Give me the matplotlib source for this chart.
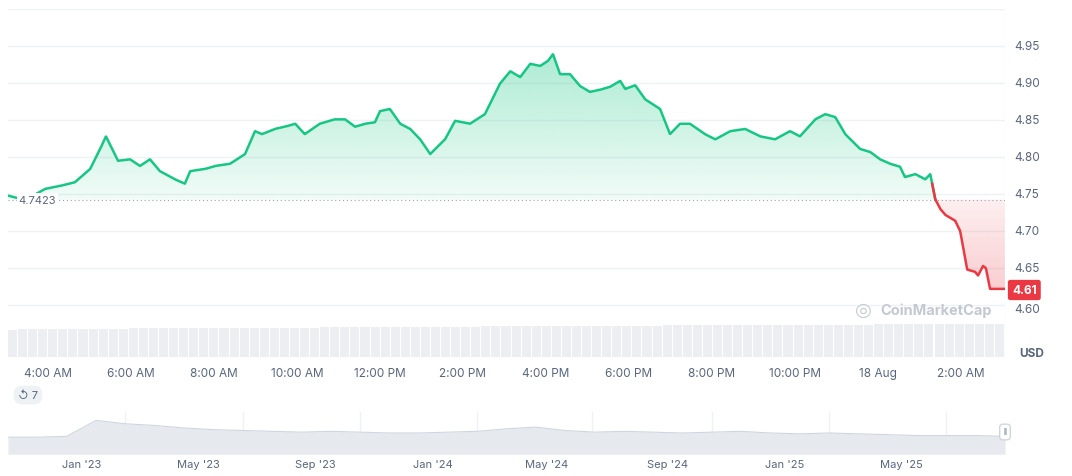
import numpy as np
import matplotlib
matplotlib.use("Agg")
import matplotlib.pyplot as plt
from matplotlib.colors import LinearSegmentedColormap
from matplotlib.path import Path

hours = [3.04,3.45,3.93,4.29,4.65,5.02,5.26,5.40,5.69,5.98,6.22,6.46,6.70,7.06,7.30,7.43,7.79,8.03,8.39,8.75,8.99,9.16,9.47,9.71,9.96,10.19,10.55,10.91,11.16,11.40,11.64,11.88,12.00,12.24,12.49,12.73,12.97,13.21,13.57,13.81,14.17,14.53,14.77,14.89,15.14,15.38,15.62,15.86,16.05,16.17,16.34,16.58,16.82,17.06,17.31,17.55,17.79,17.91,18.15,18.39,18.75,18.99,19.23,19.47,19.83,20.08,20.44,20.80,21.16,21.52,21.88,22.12,22.49,22.73,22.97,23.21,23.57,23.81,24.05,24.29,24.53,24.65,24.90,25.14,25.26,25.38,25.50,25.62,25.86,25.98,26.15,26.34,26.41,26.53,26.60,26.70,27.06]
prices = [4.748,4.742,4.757,4.761,4.766,4.784,4.811,4.828,4.795,4.797,4.788,4.797,4.781,4.770,4.764,4.781,4.784,4.788,4.791,4.804,4.835,4.831,4.838,4.841,4.845,4.831,4.845,4.851,4.851,4.841,4.845,4.847,4.862,4.865,4.845,4.838,4.824,4.804,4.824,4.849,4.845,4.858,4.885,4.899,4.916,4.908,4.926,4.923,4.930,4.939,4.912,4.912,4.896,4.888,4.891,4.895,4.903,4.892,4.897,4.878,4.865,4.831,4.845,4.845,4.831,4.824,4.835,4.838,4.828,4.824,4.835,4.828,4.851,4.858,4.854,4.831,4.811,4.807,4.797,4.791,4.787,4.773,4.777,4.770,4.777,4.743,4.730,4.722,4.714,4.700,4.648,4.645,4.640,4.653,4.650,4.622,4.622]
baseline = 4.7423
last_price = "4.61"

hour_ticks = [4,6,8,10,12,14,16,18,20,22,24,26]
hour_labels = ["4:00 AM","6:00 AM","8:00 AM","10:00 AM","12:00 PM","2:00 PM","4:00 PM","6:00 PM","8:00 PM","10:00 PM","18 Aug","2:00 AM"]
price_ticks = [4.60,4.65,4.70,4.75,4.80,4.85,4.90,4.95]

volume = [30,31,31,31,31,31,31,31,31,31,31,31,32,32,32,32,32,32,32,32,32,32,32,32,32,32,32,32,32,32,32,33,33,33,33,33,33,33,33,33,33,33,33,33,33,33,33,34,34,34,34,34,34,34,34,34,34,34,34,34,34,34,34,34,34,35,35,35,35,35,35,35,35,35,35,35,35,35,35,35,35,35,35,35,35,35,36,36,36,36,36,36,36,36,36,36,36,36,36,36]

nav_x = list(range(35))
nav_y = [20,20,21,40,36,34,31,29,28,27,26,27,26,25,25,26,27,30,32,28,26,27,26,25,26,27,25,24,25,24,23,22,22,22,21]
nav_months = [2.5,6.5,10.5,14.5,18.4,22.5,26.5,30.5]
nav_labels = ["Jan '23","May '23","Sep '23","Jan '24","May '24","Sep '24","Jan '25","May '25"]

W, H = 1072, 477
fig = plt.figure(figsize=(W/100, H/100), dpi=100)
plt.rcParams['font.family'] = ['Inter', 'DejaVu Sans']
green = "#16c784"; red = "#ea3943"; grid = "#eff2f5"; txt = "#58667e"

def fx(px): return px/W
def fy(py): return 1-py/H

ax = fig.add_axes([fx(8), fy(358), fx(1005-8), fy(10)-fy(358)])
ax.set_xlim(3.04, 27.06); ax.set_ylim(4.53, 5.0)
for s in ax.spines.values(): s.set_visible(False)
for t in price_ticks + [5.0]:
    ax.axhline(t, color=grid, lw=1, zorder=0)
ax.axvline(27.06, color=grid, lw=1)
ax.set_xticks([]); ax.set_yticks([])

axv = ax.twinx()
axv.set_ylim(0, 380); axv.set_axis_off()
vx = np.linspace(3.04, 27.06, len(volume))
axv.bar(vx, volume, width=(vx[1]-vx[0])*0.9, color="#eceef2", align='edge')

x = np.array(hours); y = np.array(prices)
xf = np.linspace(x[0], x[-1], 3000)
yf = np.interp(xf, x, y)
ax.set_zorder(axv.get_zorder()+1); ax.patch.set_visible(False)

def grad(mask, col, lo, hi, a_top, a_bot):
    poly = ax.fill_between(xf, yf, baseline, where=mask, interpolate=True, color='none', lw=0)
    rgb = matplotlib.colors.to_rgb(col)
    cmap = LinearSegmentedColormap.from_list('g', [(*rgb, a_bot), (*rgb, a_top)])
    im = ax.imshow(np.linspace(0,1,256).reshape(-1,1), extent=[x[0], x[-1], lo, hi], origin='lower', aspect='auto', cmap=cmap, zorder=1)
    cp = Path.make_compound_path(*poly.get_paths())
    im.set_clip_path(cp, transform=ax.transData)
grad(yf >= baseline, green, baseline, 4.94, 0.35, 0.06)
grad(yf <= baseline, red, 4.62, baseline, 0.08, 0.25)

m = yf >= baseline - 0.0005
ax.plot(np.where(m, xf, np.nan), np.where(m, yf, np.nan), color=green, lw=1.8, zorder=3)
m2 = xf >= 25.3
ax.plot(np.where(m2, xf, np.nan), np.where(m2, yf, np.nan), color=red, lw=1.8, zorder=3)
ax.axhline(baseline, color="#9aa3b0", lw=0.8, ls=(0,(1,2.5)), zorder=2)
ax.text(3.3, baseline, "4.7423", fontsize=8, color=txt, va='center', ha='left',
        bbox=dict(boxstyle='square,pad=0.15', fc='white', ec='none'), zorder=4)

for t in price_ticks[1:]:
    fig.text(fx(1014), fy(47 + (4.95-t)/0.05*37), f"{t:.2f}", fontsize=8.5, color=txt, va='center')
fig.text(fx(1014), fy(310), "4.60", fontsize=8.5, color=txt, va='center')
fig.text(fx(1019), fy(354), "USD", fontsize=8.5, color=txt, va='center', weight='bold')
fig.text(fx(1012), fy(291), last_price, fontsize=8.5, color='white', va='center', weight='bold',
         bbox=dict(boxstyle='round,pad=0.35,rounding_size=0.2', fc=red, ec='none'))
for t, l in zip(hour_ticks, hour_labels):
    fig.text(fx(8 + (t-3.04)*41.5), fy(374), l, fontsize=8.5, color=txt, ha='center', va='center')
fig.text(fx(880), fy(311), "CoinMarketCap", fontsize=10.5, color="#c3c9d3", weight='bold', va='center')
fig.text(fx(863), fy(311), "\u25CE", fontsize=14, color="#c3c9d3", ha='center', va='center')
fig.text(fx(28), fy(396), "\u21BA 7", fontsize=8, color=txt, ha='center', va='center',
         bbox=dict(boxstyle='round,pad=0.4,rounding_size=0.8', fc='#eff2f5', ec='none'))

axn = fig.add_axes([fx(8), fy(455), fx(997), fy(413)-fy(455)])
axn.set_xlim(0, 34); axn.set_ylim(0, 50)
axn.fill_between(nav_x, nav_y, 0, color="#e6e9ee", lw=0)
axn.plot(nav_x, nav_y, color="#cfd6e0", lw=0.8)
for s in axn.spines.values(): s.set_visible(False)
axn.spines['bottom'].set_visible(True); axn.spines['bottom'].set_color(grid)
axn.set_xticks([]); axn.set_yticks([])
for mth in nav_months:
    axn.axvline(mth + 1.5, color=grid, lw=1, zorder=0)
for mth, l in zip(nav_months, nav_labels):
    fig.text(fx(8 + mth*29.3), fy(465), l, fontsize=8, color=txt, ha='center', va='center')
fig.text(fx(1005), fy(433), "ll", fontsize=6, color=txt, ha='center', va='center',
         bbox=dict(boxstyle='round,pad=0.4', fc='white', ec='#cfd6e0'))
fig.savefig("out.png", dpi=100, facecolor='white')
